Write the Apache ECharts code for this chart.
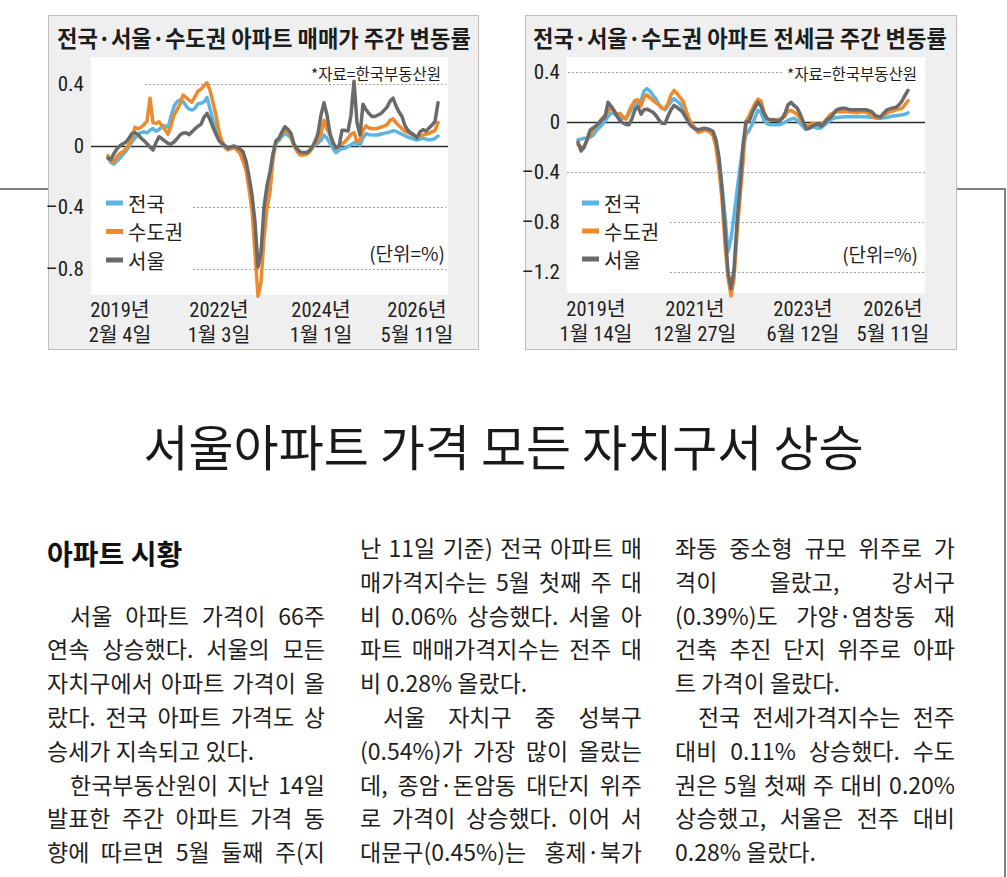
<!DOCTYPE html>
<html><head><meta charset="utf-8">
<script src="https://cdn.jsdelivr.net/npm/echarts@6/dist/echarts.min.js"></script>
<style>
html,body{margin:0;padding:0;background:#fff;}
body{width:1007px;height:877px;position:relative;overflow:hidden;font-family:"Noto Sans CJK KR",sans-serif;color:#1e1e1e;}
.panel{position:absolute;background:#efefef;border:1px solid #bdbdbd;box-sizing:border-box;}
.plot{position:absolute;background:#fff;}
.rule{position:absolute;background:#808080;}
#chart{position:absolute;left:0;top:0;width:1007px;height:360px;}
.head{position:absolute;left:0;top:409px;width:1007px;height:72px;line-height:72px;text-align:center;font-size:49px;color:#1a1a1a;}
.sub{position:absolute;left:47px;top:535px;height:36px;line-height:36px;font-size:28px;font-weight:700;color:#111;}
.ln{position:absolute;height:34px;line-height:34px;font-size:23px;color:#1e1e1e;text-align:justify;text-align-last:justify;overflow:visible;}
.ln.last{text-align:left;text-align-last:left;}
.ind{text-indent:23px;}
.c1{left:47px;width:278px;}
.c2{left:360px;width:282px;}
.c3{left:675px;width:280px;}
</style></head>
<body>
<div class="panel" style="left:48px;top:15px;width:431px;height:335px;"></div>
<div class="panel" style="left:525px;top:15px;width:432px;height:335px;"></div>
<div class="plot" style="left:91px;top:57px;width:357px;height:238px;"></div>
<div class="plot" style="left:567px;top:57px;width:358px;height:236px;"></div>
<div class="rule" style="left:0;top:188px;width:48px;height:1.5px;"></div>
<div class="rule" style="left:957px;top:188px;width:49px;height:1.5px;"></div>
<div class="rule" style="left:1004px;top:188px;width:1.5px;height:689px;"></div>
<div id="chart"></div>

<div class="head">서울아파트 가격 모든 자치구서 상승</div>
<div class="sub">아파트 시황</div>

<div class="ln c1 ind" style="top:597.6px">서울 아파트 가격이 66주</div>
<div class="ln c1" style="top:631.4px">연속 상승했다. 서울의 모든</div>
<div class="ln c1" style="top:665.2px">자치구에서 아파트 가격이 올</div>
<div class="ln c1" style="top:699px">랐다. 전국 아파트 가격도 상</div>
<div class="ln c1 last" style="top:732.8px">승세가 지속되고 있다.</div>
<div class="ln c1 ind" style="top:766.6px">한국부동산원이 지난 14일</div>
<div class="ln c1" style="top:800.4px">발표한 주간 아파트 가격 동</div>
<div class="ln c1" style="top:834.2px">향에 따르면 5월 둘째 주(지</div>

<div class="ln c2" style="top:530px">난 11일 기준) 전국 아파트 매</div>
<div class="ln c2" style="top:563.8px">매가격지수는 5월 첫째 주 대</div>
<div class="ln c2" style="top:597.6px">비 0.06% 상승했다. 서울 아</div>
<div class="ln c2" style="top:631.4px">파트 매매가격지수는 전주 대</div>
<div class="ln c2 last" style="top:665.2px">비 0.28% 올랐다.</div>
<div class="ln c2 ind" style="top:699px">서울 자치구 중 성북구</div>
<div class="ln c2" style="top:732.8px">(0.54%)가 가장 많이 올랐는</div>
<div class="ln c2" style="top:766.6px">데, 종암·돈암동 대단지 위주</div>
<div class="ln c2" style="top:800.4px">로 가격이 상승했다. 이어 서</div>
<div class="ln c2" style="top:834.2px">대문구(0.45%)는 홍제·북가</div>

<div class="ln c3" style="top:530px">좌동 중소형 규모 위주로 가</div>
<div class="ln c3" style="top:563.8px">격이 올랐고, 강서구</div>
<div class="ln c3" style="top:597.6px">(0.39%)도 가양·염창동 재</div>
<div class="ln c3" style="top:631.4px">건축 추진 단지 위주로 아파</div>
<div class="ln c3 last" style="top:665.2px">트 가격이 올랐다.</div>
<div class="ln c3 ind" style="top:699px">전국 전세가격지수는 전주</div>
<div class="ln c3" style="top:732.8px">대비 0.11% 상승했다. 수도</div>
<div class="ln c3" style="top:766.6px">권은 5월 첫째 주 대비 0.20%</div>
<div class="ln c3" style="top:800.4px">상승했고, 서울은 전주 대비</div>
<div class="ln c3 last" style="top:834.2px">0.28% 올랐다.</div>

<script>
// ---------- data: weekly change rate (%) ----------
const salesNational = [-0.08,-0.11,-0.12,-0.1,-0.08,-0.058,-0.035,-0.005,0.025,0.05,
 0.077,0.085,0.09,0.083,0.1,0.112,0.095,0.105,0.125,0.13,
 0.12,0.19,0.257,0.287,0.297,0.29,0.26,0.238,0.232,0.245,
 0.273,0.276,0.285,0.315,0.24,0.17,0.105,0.05,0.015,-0.013,
 -0.026,-0.017,-0.012,-0.026,-0.04,-0.08,-0.13,-0.23,-0.34,-0.55,
 -0.77,-0.7,-0.52,-0.33,-0.25,-0.07,0.02,0.035,0.06,0.08,
 0.068,0.05,0.0,-0.03,-0.05,-0.05,-0.048,-0.035,-0.015,0.004,
 0.017,0.035,0.07,0.05,0.015,-0.02,-0.045,-0.03,-0.02,-0.017,
 -0.004,0.006,0.02,0.012,0.004,0.05,0.078,0.072,0.07,0.07,
 0.07,0.076,0.08,0.085,0.09,0.097,0.095,0.083,0.075,0.065,
 0.055,0.05,0.042,0.037,0.043,0.048,0.043,0.037,0.04,0.048,
 0.063];
const salesCapital = [-0.065,-0.1,-0.105,-0.07,-0.05,-0.04,-0.02,0.01,0.05,0.12,
 0.11,0.12,0.137,0.16,0.31,0.15,0.145,0.155,0.13,0.105,
 0.075,0.13,0.2,0.235,0.27,0.33,0.315,0.297,0.283,0.32,
 0.356,0.368,0.39,0.41,0.36,0.28,0.2,0.09,0.03,-0.01,
 -0.025,-0.017,-0.012,-0.03,-0.05,-0.1,-0.16,-0.28,-0.42,-0.7,
 -0.98,-0.89,-0.6,-0.41,-0.3,-0.08,0.03,0.045,0.08,0.11,
 0.085,0.06,0.0,-0.035,-0.06,-0.06,-0.058,-0.045,-0.02,0.015,
 0.04,0.08,0.165,0.11,0.07,0.02,-0.015,0.0,0.013,0.026,
 0.05,0.075,0.085,0.025,0.037,0.1,0.13,0.115,0.11,0.11,
 0.113,0.122,0.128,0.137,0.165,0.175,0.15,0.13,0.11,0.095,
 0.085,0.075,0.065,0.06,0.065,0.07,0.074,0.08,0.09,0.1,
 0.15];
const salesSeoul = [-0.08,-0.09,-0.05,-0.02,0.0,0.012,0.024,0.05,0.08,0.085,
 0.072,0.05,0.033,0.013,-0.01,-0.028,0.02,0.058,0.045,0.03,
 0.015,0.01,0.024,0.045,0.07,0.082,0.085,0.072,0.09,0.11,
 0.127,0.14,0.185,0.21,0.17,0.12,0.075,0.033,0.013,0.0,
 -0.015,-0.008,-0.002,-0.01,-0.022,-0.038,-0.1,-0.2,-0.32,-0.5,
 -0.79,-0.7,-0.4,-0.26,-0.17,-0.05,0.03,0.05,0.09,0.124,
 0.105,0.08,0.01,-0.02,-0.04,-0.045,-0.045,-0.035,-0.01,0.026,
 0.08,0.2,0.28,0.2,0.08,0.02,-0.015,-0.005,0.1,0.1,
 0.095,0.2,0.42,0.15,0.07,0.27,0.235,0.21,0.19,0.19,
 0.2,0.21,0.23,0.25,0.29,0.31,0.26,0.22,0.19,0.13,
 0.1,0.083,0.07,0.05,0.09,0.105,0.095,0.115,0.135,0.157,
 0.28];

const jeonseNational = [-0.14,-0.135,-0.128,-0.128,-0.12,-0.105,-0.07,-0.045,-0.02,0.01,
 0.045,0.075,0.07,0.048,0.035,0.032,0.032,0.065,0.112,0.135,
 0.155,0.173,0.25,0.27,0.25,0.215,0.185,0.14,0.115,0.1,
 0.13,0.165,0.19,0.17,0.15,0.11,0.08,0.025,-0.02,-0.045,
 -0.065,-0.072,-0.065,-0.06,-0.06,-0.082,-0.16,-0.3,-0.515,-0.75,
 -1.035,-0.93,-0.75,-0.55,-0.36,-0.2,-0.1,-0.065,-0.02,0.04,
 0.098,0.08,0.015,-0.012,-0.018,-0.02,-0.02,-0.02,-0.01,0.0,
 0.015,0.025,0.032,0.015,-0.008,-0.035,-0.058,-0.045,-0.035,-0.04,
 -0.048,-0.045,-0.025,-0.005,0.015,0.032,0.036,0.04,0.043,0.045,
 0.045,0.045,0.045,0.045,0.045,0.045,0.045,0.043,0.04,0.037,
 0.033,0.032,0.036,0.04,0.045,0.05,0.053,0.056,0.06,0.065,
 0.075];
const jeonseCapital = [-0.18,-0.195,-0.2,-0.14,-0.1,-0.065,-0.03,0.0,0.03,0.055,
 0.085,0.12,0.085,0.065,0.07,0.045,0.025,0.09,0.135,0.175,
 0.18,0.13,0.2,0.22,0.195,0.175,0.155,0.137,0.113,0.11,
 0.15,0.22,0.255,0.23,0.2,0.17,0.095,0.025,-0.01,-0.05,
 -0.082,-0.075,-0.06,-0.068,-0.08,-0.105,-0.2,-0.38,-0.62,-0.97,
 -1.24,-1.39,-1.25,-0.89,-0.6,-0.32,0.005,0.05,0.1,0.15,
 0.185,0.17,0.08,0.03,0.02,0.02,0.02,0.025,0.03,0.05,
 0.09,0.095,0.08,0.065,0.03,-0.005,-0.03,-0.025,-0.01,-0.012,
 -0.018,-0.015,0.0,0.03,0.06,0.075,0.085,0.085,0.085,0.085,
 0.085,0.082,0.08,0.077,0.082,0.085,0.08,0.072,0.055,0.035,
 0.035,0.05,0.06,0.072,0.085,0.09,0.1,0.105,0.112,0.14,
 0.173];
const jeonseSeoul = [-0.16,-0.23,-0.2,-0.14,-0.065,-0.045,-0.03,-0.005,0.02,0.042,
 0.16,0.13,0.095,0.05,0.013,-0.005,-0.017,-0.02,0.03,0.1,
 0.125,0.065,0.1,0.105,0.093,0.08,0.055,0.018,-0.007,-0.01,
 0.05,0.1,0.135,0.12,0.1,0.078,0.035,-0.01,-0.035,-0.052,
 -0.06,-0.054,-0.048,-0.051,-0.06,-0.072,-0.14,-0.28,-0.53,-0.86,
 -1.2,-1.33,-1.18,-0.8,-0.52,-0.18,0.005,0.005,0.07,0.12,
 0.16,0.13,0.07,0.03,0.02,0.02,0.015,0.008,0.03,0.072,
 0.14,0.16,0.135,0.115,0.07,0.01,-0.05,-0.05,-0.033,-0.017,
 -0.015,-0.03,-0.01,0.02,0.035,0.06,0.095,0.107,0.112,0.112,
 0.105,0.1,0.1,0.1,0.1,0.1,0.1,0.093,0.083,0.055,
 0.045,0.045,0.075,0.1,0.108,0.115,0.12,0.14,0.17,0.215,
 0.255];

// week index categories and tick labels
const salesWeeks = salesNational.map((_, i) => i);
const jeonseWeeks = jeonseNational.map((_, i) => i);
const salesTickIdx = [4, 37, 71, 103];
const salesTickText = ['2019년\n2월 4일', '2022년\n1월 3일', '2024년\n1월 1일', '2026년\n5월 11일'];
const jeonseTickIdx = [6, 39, 75, 105];
const jeonseTickText = ['2019년\n1월 14일', '2021년\n12월 27일', '2023년\n6월 12일', '2026년\n5월 11일'];
const seriesNames = ['전국', '수도권', '서울'];
const titles = ['전국·서울·수도권 아파트 매매가 주간 변동률', '전국·서울·수도권 아파트 전세금 주간 변동률'];
const sourceNote = '*자료=한국부동산원';
const unitNote = '(단위=%)';

const COLORS = ['#5cb5e1', '#ec8a2d', '#6a6a6a'];
const NARROW = '"Liberation Sans Narrow","Roboto Condensed","Noto Sans CJK KR",sans-serif';
const KR = '"Noto Sans CJK KR",sans-serif';

function yFmt(v) {
  const r = Math.round(v / 0.4);
  if (Math.abs(r * 0.4 - v) > 1e-6) return '';
  if (Math.abs(v) < 1e-9) return '0';
  return (v < 0 ? '–' : '') + Math.abs(v).toFixed(1);
}
function xFmt(idxArr, txtArr) {
  return function (val, idx) { const k = idxArr.indexOf(idx); return k >= 0 ? txtArr[k] : ''; };
}
function mkX(grid, cats, idxArr, txtArr, off) {
  return { gridIndex: grid, type: 'category', data: cats, boundaryGap: false, offset: off,
    axisLine: { show: false }, axisTick: { show: false }, splitLine: { show: false },
    axisLabel: { interval: 0, margin: 0, fontSize: 20.5, lineHeight: 25, color: '#222', fontFamily: NARROW,
      formatter: xFmt(idxArr, txtArr) } };
}
function mkY(grid, min, max, margin) {
  return { gridIndex: grid, type: 'value', min: min, max: max, interval: 0.2,
    axisLine: { show: false }, axisTick: { show: false }, splitLine: { show: false },
    axisLabel: { margin: margin, fontSize: 21, color: '#222', fontFamily: NARROW, formatter: yFmt } };
}
function mkS(name, data, k, grid) {
  return { name: name, type: 'line', xAxisIndex: grid, yAxisIndex: grid, data: data, showSymbol: false,
    symbol: 'none', color: COLORS[k], z: 3 + k,
    lineStyle: { width: 3.5, color: COLORS[k], cap: 'round', join: 'round' } };
}
function mkLegend(left, top, gap) {
  return { data: seriesNames, orient: 'vertical', left: left, top: top, icon: 'rect', itemWidth: 17, itemHeight: 5,
    itemGap: gap, selectedMode: false, textStyle: { fontSize: 20, lineHeight: 20, color: '#222', fontFamily: KR } };
}

const chart = echarts.init(document.getElementById('chart'), null, { renderer: 'svg', width: 1007, height: 360 });
chart.setOption({
  animation: false,
  backgroundColor: 'transparent',
  textStyle: { fontFamily: KR },
  grid: [
    { left: 108, width: 330, top: 53.6, height: 245.6 },
    { left: 578, width: 330, top: 47.3, height: 250 }
  ],
  xAxis: [mkX(0, salesWeeks, salesTickIdx, salesTickText, -2), mkX(1, jeonseWeeks, jeonseTickIdx, jeonseTickText, -1)],
  yAxis: [mkY(0, -1.0, 0.6, 24), mkY(1, -1.4, 0.6, 18)],
  legend: [mkLegend(101, 188, 8.5), mkLegend(577, 188, 8)],
  series: [
    mkS(seriesNames[0], salesNational, 0, 0), mkS(seriesNames[1], salesCapital, 1, 0), mkS(seriesNames[2], salesSeoul, 2, 0),
    mkS(seriesNames[0], jeonseNational, 0, 1), mkS(seriesNames[1], jeonseCapital, 1, 1), mkS(seriesNames[2], jeonseSeoul, 2, 1)
  ]
});

// reference lines positioned through the axes' own scales
function yPix(axis, v) { return chart.convertToPixel({ yAxisIndex: axis }, v); }
function hline(axis, v, x1, x2, solid) {
  const y = Math.round(yPix(axis, v)) + 0.5;
  return { type: 'line', z: 1, silent: true, shape: { x1: x1, y1: y, x2: x2, y2: y },
    style: solid ? { stroke: '#2a2a2a', lineWidth: 1.3 } : { stroke: '#a0a0a0', lineWidth: 1, lineDash: [2, 2] } };
}
function txt(x, y, s, size, align, weight) {
  return { type: 'text', z: 10, silent: true, x: x, y: y,
    style: { text: s, fontSize: size, fontWeight: weight || 'normal', fontFamily: KR, fill: '#1d1d1d',
      textAlign: align, textVerticalAlign: 'middle' } };
}
chart.setOption({
  graphic: [
    hline(0, 0.4, 145, 446, false), hline(0, -0.4, 193, 446, false), hline(0, -0.8, 193, 446, false),
    hline(0, 0, 91, 448, true),
    hline(1, 0.4, 568, 782, false), hline(1, -0.4, 567, 925, false), hline(1, -0.8, 670, 925, false),
    hline(1, -1.2, 670, 925, false), hline(1, 0, 567, 925, true),
    txt(57, 37, titles[0], 22.2, 'left', 'bold'),
    txt(533, 37, titles[1], 22.2, 'left', 'bold'),
    txt(441, 73, sourceNote, 15.5, 'right'),
    txt(917, 73, sourceNote, 15.5, 'right'),
    txt(445, 252, unitNote, 19, 'right'),
    txt(918, 253, unitNote, 19, 'right')
  ]
});

// fit each justified article line into its column
document.querySelectorAll('.ln').forEach(function (el) {
  const cs = getComputedStyle(el);
  const avail = el.clientWidth - (parseFloat(cs.textIndent) || 0);
  const probe = document.createElement('span');
  probe.style.cssText = 'position:absolute;visibility:hidden;white-space:nowrap;font-size:' + cs.fontSize + ';font-family:' + cs.fontFamily;
  probe.textContent = el.textContent;
  document.body.appendChild(probe);
  const w = probe.getBoundingClientRect().width;
  document.body.removeChild(probe);
  if (w > avail - 1) {
    const n = el.textContent.length;
    el.style.letterSpacing = ((avail - 1.5 - w) / n) + 'px';
  }
});
</script>
</body></html>
